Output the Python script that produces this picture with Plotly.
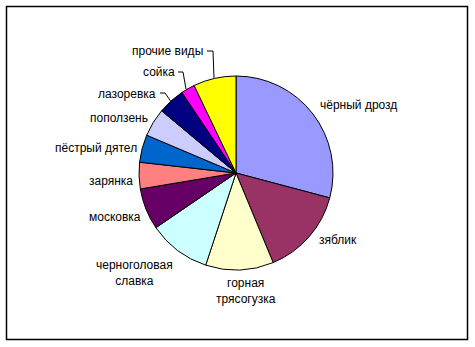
import plotly.graph_objects as go

labels = ["чёрный дрозд", "зяблик", "горная трясогузка", "черноголовая славка",
          "московка", "зарянка", "пёстрый дятел", "поползень", "лазоревка",
          "сойка", "прочие виды"]
values = [29.1, 14.6, 11.3, 10.4, 6.9, 4.4, 4.6, 4.7, 4.5, 2.3, 7.1]
colors = ["#9999FF", "#993366", "#FFFFCC", "#CCFFFF", "#660066", "#FF8080",
          "#0066CC", "#CCCCFF", "#000080", "#FF00FF", "#FFFF00"]

W, H = 475, 347
cx, cy, r = 236, 173, 97

def px(x):
    return x / W

def py(y):
    return 1 - y / H

fig = go.Figure(go.Pie(
    labels=labels, values=values, sort=False, direction="clockwise", rotation=0,
    marker=dict(colors=colors, line=dict(color="black", width=1)),
    textinfo="none", hoverinfo="label+percent", showlegend=False,
    domain=dict(x=[px(cx - r), px(cx + r)], y=[py(cy + r), py(cy - r)]),
))

# label placement (layout only)
label_pos = [
    ("чёрный дрозд", 318, 105, "left"),
    ("зяблик", 317, 240, "left"),
    ("горная<br>трясогузка", 246, 291, "center"),
    ("черноголовая<br>славка", 134, 273, "center"),
    ("московка", 143, 217, "right"),
    ("зарянка", 135, 181, "right"),
    ("пёстрый дятел", 139, 148, "right"),
    ("поползень", 150, 118, "right"),
    ("лазоревка", 158, 94, "right"),
    ("сойка", 177, 72, "right"),
    ("прочие виды", 205, 51, "right"),
]
annotations = []
for t, x, y, a in label_pos:
    annotations.append(dict(text=t, x=px(x), y=py(y), xref="paper", yref="paper",
                            xanchor=a, yanchor="middle", showarrow=False,
                            align="center",
                            font=dict(family="Liberation Sans, Arial", size=12, color="black")))

leaders = [
    [(207, 51), (213, 51), (214, 78)],
    [(178, 72), (183, 72), (186, 89)],
    [(160, 93), (165, 93), (172, 103)],
]
shapes = []
for pts in leaders:
    path = "M " + " L ".join(f"{px(x)},{py(y)}" for x, y in pts)
    shapes.append(dict(type="path", path=path, xref="paper", yref="paper",
                       line=dict(color="black", width=1)))
shapes.append(dict(type="rect", xref="paper", yref="paper",
                   x0=px(6.5), y0=py(339.5), x1=px(467.5), y1=py(6.5),
                   line=dict(color="black", width=1.5)))

fig.update_layout(width=W, height=H, margin=dict(l=0, r=0, t=0, b=0),
                  paper_bgcolor="white", plot_bgcolor="white",
                  annotations=annotations, shapes=shapes)
fig.write_html("out.html")
